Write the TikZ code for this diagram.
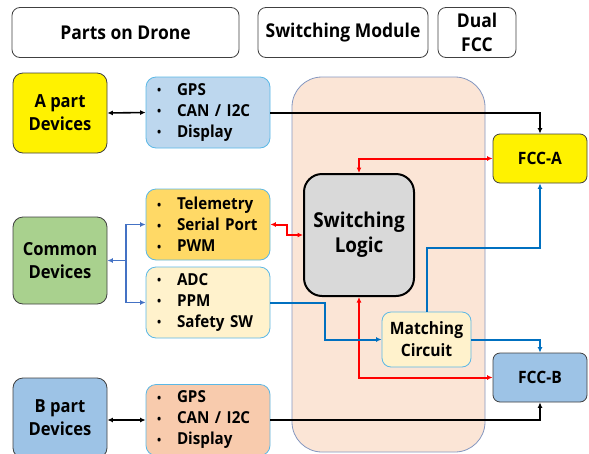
\documentclass[tikz,border=0pt]{standalone}
\usepackage{fontspec}
\setmainfont{Open Sans}[FakeStretch=0.92]
\usetikzlibrary{arrows.meta}
\definecolor{cyanb}{HTML}{5BB8E6}
\definecolor{darkb}{HTML}{404040}
\definecolor{modfill}{HTML}{FBE5D6}
\definecolor{modline}{HTML}{8497C0}
\definecolor{blueA}{HTML}{BDD7EE}
\definecolor{orangeT}{HTML}{FFD966}
\definecolor{creamC}{HTML}{FFF2CC}
\definecolor{salmonB}{HTML}{F8CBAD}
\definecolor{greenC}{HTML}{A9D18E}
\definecolor{blueB}{HTML}{9DC3E6}
\definecolor{grayL}{HTML}{D9D9D9}
\definecolor{redc}{HTML}{FF0000}
\definecolor{bluec}{HTML}{0070C0}
\definecolor{blued}{HTML}{4472C4}
\tikzset{
  hdr/.style={draw=darkb, line width=0.8pt, rounded corners=8pt, fill=white,
    font=\bfseries\fontsize{19}{22}\selectfont, align=center, inner sep=0pt},
  dev/.style={draw=darkb, line width=0.8pt, rounded corners=10pt, inner sep=0pt,
    minimum width=94pt, font=\bfseries\fontsize{18}{23}\selectfont, align=center},
  lst/.style={draw=cyanb, line width=0.8pt, rounded corners=10pt, inner sep=0pt,
    minimum width=124pt, minimum height=71pt, text width=102pt,
    font=\bfseries\fontsize{16.5}{21}\selectfont, align=left},
  fcc/.style={draw=darkb, line width=0.8pt, rounded corners=7pt, inner sep=0pt,
    minimum width=94pt, minimum height=49pt, font=\bfseries\fontsize{17}{20}\selectfont},
  tip/.style={-{Latex[length=5.5pt,width=5pt]}},
  both/.style={{Latex[length=5.5pt,width=5pt]}-{Latex[length=5.5pt,width=5pt]}},
  blk/.style={line width=2pt, draw=black},
  red/.style={line width=2pt, draw=redc},
  blu/.style={line width=2pt, draw=bluec},
  bld/.style={line width=1.8pt, draw=blued},
}
\newcommand{\bitem}[1]{\mbox{\makebox[20pt][l]{\raisebox{0.5pt}{\fontsize{12}{12}\selectfont\textbullet}}#1}}
\begin{document}
\begin{tikzpicture}[x=1pt, y=-1pt]
\useasboundingbox (0,0) rectangle (589,453);

% column headers
\node[hdr, minimum width=227pt, minimum height=50pt] (h1) at (125.5,32.5) {Parts on Drone};
\node[hdr, minimum width=170pt, minimum height=50pt] (h2) at (343,32.5) {Switching Module};
\node[hdr, minimum width=78pt, minimum height=50pt, font=\bfseries\fontsize{19}{24}\selectfont] (h3) at (477,32.5) {Dual\\FCC};

% switching module background
\node[draw=modline, fill=modfill, line width=0.8pt, rounded corners=30pt,
  minimum width=193pt, minimum height=375pt, inner sep=0pt] (mod) at (388.5,264.5) {};

% device groups
\node[dev, fill=yellow, minimum height=80pt] (apart) at (60,113) {A part\\Devices};
\node[dev, fill=greenC, minimum height=87pt] (common) at (60,260.5) {Common\\Devices};
\node[dev, fill=blueB, minimum height=80pt] (bpart) at (60,418) {B part\\Devices};

% interface lists
\node[lst, fill=blueA] (gpsA) at (208,112.5) {\bitem{GPS}\\\bitem{CAN / I2C}\\\bitem{Display}};
\node[lst, fill=orangeT] (tel) at (208,224.5) {\bitem{Telemetry}\\\bitem{Serial Port}\\\bitem{PWM}};
\node[lst, fill=creamC] (adc) at (208,302.5) {\bitem{ADC}\\\bitem{PPM}\\\bitem{Safety SW}};
\node[lst, fill=salmonB] (gpsB) at (208,420) {\bitem{GPS}\\\bitem{CAN / I2C}\\\bitem{Display}};

% switching module internals
\node[draw=black, fill=grayL, line width=2pt, rounded corners=18pt, inner sep=0pt,
  minimum width=110pt, minimum height=122pt, align=center,
  font=\bfseries\fontsize{20.5}{25}\selectfont] (logic) at (359,235) {Switching\\Logic};
\node[draw=cyanb, fill=creamC, line width=0.8pt, rounded corners=9pt, inner sep=0pt,
  minimum width=89pt, minimum height=55pt, align=center,
  font=\bfseries\fontsize{17}{22}\selectfont] (match) at (426.5,339.5) {Matching\\Circuit};

% flight controllers
\node[fcc, fill=yellow] (fccA) at (540,158.5) {FCC-A};
\node[fcc, fill=blueB] (fccB) at (540,377.5) {FCC-B};

% junction points
\coordinate (cj) at (126,260.5);
\coordinate (rj) at (287,224.5);
\coordinate (aj) at (325,302.5);
\coordinate (mj) at (426.5,248);

% black links
\draw[blk, both, line width=1.6pt] (apart.east) -- (gpsA.west);
\draw[blk, both, line width=1.6pt] (bpart.east |- gpsB.west) -- (gpsB.west);
\draw[blk, tip] (gpsA.east) -| (fccA.north);
\draw[blk, tip] (gpsB.east) -| (fccB.south);

% common device links
\draw[bld, tip] (cj) -- (common.east);
\draw[bld, tip] (cj) |- (tel.west);
\draw[bld, tip] (cj) |- (adc.west);

% switching logic links
\draw[red, both] (tel.east) -- (rj) |- (logic.west);
\draw[red, both] (logic.north) |- (fccA.west);
\draw[red, both] (logic.south) |- (fccB.west);

% matching circuit links
\draw[blu, tip] (adc.east) -- (aj) |- (match.west);
\draw[blu, tip] (match.north) -- (mj) -| (fccA.south);
\draw[blu, tip] (match.east) -| (fccB.north);
\end{tikzpicture}
\end{document}
